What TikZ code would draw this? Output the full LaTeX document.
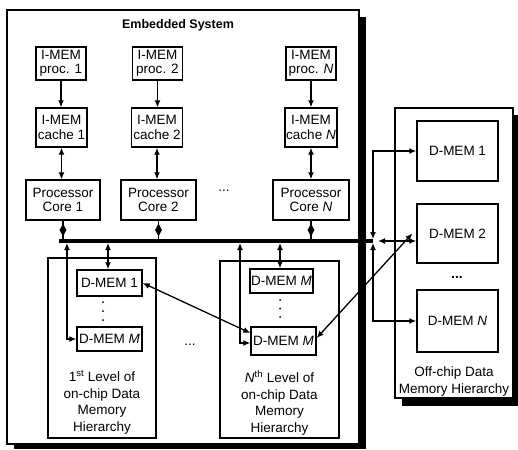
\documentclass[tikz,border=0pt]{standalone}
\usepackage{fontspec}
\setmainfont{Liberation Sans}
\usetikzlibrary{arrows.meta,shapes.geometric}
\begin{document}
\begin{tikzpicture}[x=1pt,y=-1pt,
  box/.style={draw,line width=1.4pt,inner sep=0pt,align=center,font=\fontsize{13.5}{14.5}\selectfont},
  frame/.style={draw,line width=1.4pt,inner sep=0pt},
  conn/.style={line width=1.3pt},
  bi/.style={conn,{Latex[length=7pt,width=6pt]}-{Latex[length=7pt,width=6pt]}},
  uni/.style={conn,-{Latex[length=7pt,width=6pt]}},
  lbl/.style={align=center,inner sep=0pt,font=\fontsize{13.5}{16.5}\selectfont},
  dmd/.style={diamond,fill,inner sep=0pt,minimum width=7pt,minimum height=13pt},
  shade/.style={fill=black,draw=none},
  vdot/.style={circle,fill,inner sep=0pt,minimum size=2pt}
]
\fill[white] (0,0) rectangle (518,449);
\useasboundingbox (0,0) rectangle (518,449);

% embedded system frame with shadow
\fill[shade] (359,17) rectangle (366,449);
\fill[shade] (14,444) rectangle (366,449);
\node[frame,fill=white,minimum width=352pt,minimum height=434pt] (emb) at (183,227) {};
\node[font=\fontsize{12.5}{14}\selectfont\bfseries] (title) at (178,25) {Embedded System};

% off-chip frame with shadow
\fill[shade] (513,115) rectangle (518,406);
\fill[shade] (402,398) rectangle (518,406);
\node[frame,fill=white,minimum width=118pt,minimum height=290pt] (off) at (454,253) {};

% instruction memories
\node[box,minimum width=50pt,minimum height=33pt] (imp1) at (61,63.5) {I-MEM\\proc. 1};
\node[box,minimum width=50pt,minimum height=33pt] (imp2) at (157.5,63.5) {I-MEM\\proc. 2};
\node[box,minimum width=50pt,minimum height=33pt] (impN) at (311,63.5) {I-MEM\\proc. \textit{N}};
\node[box,minimum width=51pt,minimum height=39pt] (imc1) at (61.5,127.5) {I-MEM\\cache 1};
\node[box,minimum width=51pt,minimum height=39pt] (imc2) at (157,127.5) {I-MEM\\cache 2};
\node[box,minimum width=52pt,minimum height=39pt] (imcN) at (311,127.5) {I-MEM\\cache \textit{N}};

% processor cores
\node[box,minimum width=74pt,minimum height=40pt] (core1) at (63,200) {Processor\\Core 1};
\node[box,minimum width=75pt,minimum height=40pt] (core2) at (158.5,200) {Processor\\Core 2};
\node[box,minimum width=76pt,minimum height=40pt] (coreN) at (311,200) {Processor\\Core \textit{N}};
\node[lbl] (cdots) at (224,191) {...};

% bus
\coordinate (busL) at (59,241);
\coordinate (busR) at (373,241);
\draw[line width=3.5pt] (busL) -- (busR);

% level 1
\node[frame,minimum width=108pt,minimum height=180pt] (lv1) at (102,348) {};
\node[box,minimum width=65pt,minimum height=26pt] (l1d1) at (109.5,283) {D-MEM 1};
\node[box,minimum width=65pt,minimum height=24pt] (l1dM) at (109.5,339) {D-MEM \textit{M}};
\node[vdot] (l1v1) at (103,302) {};
\node[vdot] (l1v2) at (103,311) {};
\node[vdot] (l1v3) at (103,320) {};
\node[lbl] (l1t) at (102,402) {1\textsuperscript{st} Level of\\on-chip Data\\Memory\\Hierarchy};

\node[lbl] (ldots) at (190,345) {...};

% level N
\node[frame,minimum width=119pt,minimum height=177pt] (lvN) at (279.5,349.5) {};
\node[box,minimum width=63pt,minimum height=24pt] (lNd1) at (281.5,281) {D-MEM \textit{M}};
\node[box,minimum width=65pt,minimum height=28pt] (lNdM) at (283.5,341) {D-MEM \textit{M}};
\node[vdot] (lNv1) at (280,300) {};
\node[vdot] (lNv2) at (280,308.5) {};
\node[vdot] (lNv3) at (280,317) {};
\node[lbl] (lNt) at (279.5,403) {\textit{N}\textsuperscript{th} Level of\\on-chip Data\\Memory\\Hierarchy};

% off-chip memories
\node[box,minimum width=81pt,minimum height=60pt] (od1) at (457.5,151) {D-MEM 1};
\node[box,minimum width=81pt,minimum height=59pt] (od2) at (457.5,233.5) {D-MEM 2};
\node[box,minimum width=81pt,minimum height=62pt] (odN) at (457.5,321) {D-MEM \textit{N}};
\node[lbl,font=\fontsize{14}{16}\selectfont\bfseries] (odots) at (457,277) {...};
\node[lbl,font=\fontsize{13.5}{17}\selectfont] (offt) at (454,381.5) {Off-chip Data\\Memory Hierarchy};

% instruction path connectors
\draw[uni] (imp1.south) -- (imp1.south |- imc1.north);
\draw[uni] (imp2.south) -- (imp2.south |- imc2.north);
\draw[uni] (impN.south) -- (impN.south |- imcN.north);
\draw[bi] (imc1.south) -- (imc1.south |- core1.north);
\draw[bi] (imc2.south) -- (imc2.south |- core2.north);
\draw[bi] (imcN.south) -- (imcN.south |- coreN.north);

% cores to bus
\draw[conn] (core1.south) -- (core1.south |- busL);
\draw[conn] (core2.south) -- (core2.south |- busL);
\draw[conn] (coreN.south) -- (coreN.south |- busL);
\node[dmd] (dm1) at (63,230) {};
\node[dmd] (dm2) at (158.5,230) {};
\node[dmd] (dmN) at (311,230) {};

% bus taps
\coordinate (t1) at (67,243);
\coordinate (t2) at (108,243);
\coordinate (t3) at (240,243);
\coordinate (t4) at (280,243);
\coordinate (t5) at (373,239);
\coordinate (t6) at (373,243);
\coordinate (t7) at (378,241);

\draw[bi] (t1) |- (l1dM.west);
\draw[bi] (t2) -- (t2 |- l1d1.north);
\draw[bi] (t3) |- ([yshift=-2pt]lNdM.west);
\draw[bi] (t4) -- (t4 |- lNd1.north);
\draw[bi] (l1d1.east) -- ([yshift=8pt]lNdM.west);
\draw[bi] ([yshift=3pt]lNdM.east) -- ([xshift=-4pt]od2.west);
\draw[bi] (t5) |- (od1.west);
\draw[bi] (t6) |- (odN.west);
\draw[bi] (t7) -- (t7 -| od2.west);
\end{tikzpicture}
\end{document}
